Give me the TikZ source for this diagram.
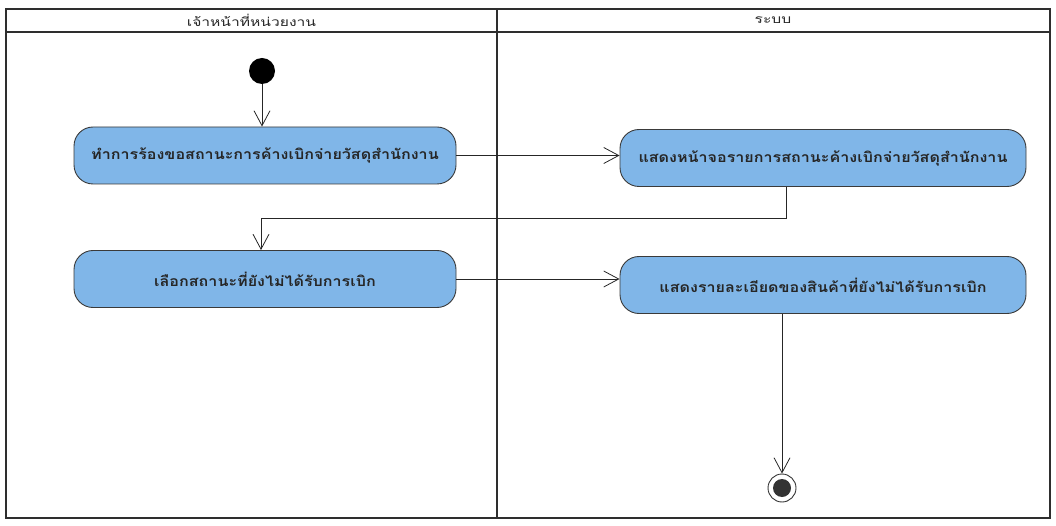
\documentclass[tikz,border=0pt]{standalone}
\usepackage{fontspec}
\newfontfamily\thaiwide[Script=Thai,FakeStretch=1.15,BoldFont={Loma Bold}]{Loma}
\newfontfamily\thaihead[Script=Thai,FakeStretch=1.3]{Loma}
\usetikzlibrary{arrows.meta,positioning}
\definecolor{actfill}{HTML}{80B6E8}
\definecolor{actline}{HTML}{3A3A3A}
\definecolor{frameline}{HTML}{2E2E2E}
\tikzset{
  activity/.style={draw=actline, line width=0.9pt, fill=actfill, rounded corners=19pt,
    minimum width=#1, minimum height=57pt, inner sep=0pt,
    font=\thaiwide\bfseries\fontsize{14}{16}\selectfont, text=black!85},
  flow/.style={draw=black!85, line width=0.8pt, -{Straight Barb[length=15pt,width=16pt,line width=0.8pt]}},
  lanehead/.style={font=\thaihead\fontsize{12}{14}\selectfont, text=black!85},
  startnode/.style={circle, fill=black, minimum size=26pt, inner sep=0pt},
}
\begin{document}
\begin{tikzpicture}[x=1pt,y=-1pt]
\useasboundingbox (0,0) rectangle (1056,526);
% swimlane frame
\draw[frameline, line width=1.8pt] (6,9) rectangle (1050,518);
\draw[frameline, line width=1.8pt] (6,32) -- (1050,32);
\draw[frameline, line width=1.4pt] (497,9) -- (497,518);
\node[lanehead] (laneA) at (251.5,20) {เจ้าหน้าที่หน่วยงาน};
\node[lanehead] (laneB) at (773,20) {ระบบ};
% nodes
\node[startnode] (start) at (262,71) {};
\node[activity=382pt] (req) at (265,155.5) {ทำการร้องขอสถานะการค้างเบิกจ่ายวัสดุสำนักงาน};
\node[activity=406pt] (show) at (823,158) {แสดงหน้าจอรายการสถานะค้างเบิกจ่ายวัสดุสำนักงาน};
\node[activity=382pt] (pick) at (265,279) {เลือกสถานะที่ยังไม่ได้รับการเบิก};
\node[activity=406pt] (detail) at (823,285) {แสดงรายละเอียดของสินค้าที่ยังไม่ได้รับการเบิก};
\node[circle, draw=black!80, line width=0.9pt, minimum size=28pt, inner sep=0pt] (stop) at (782,488) {};
\fill[black!80] (stop.center) circle (9pt);
% flows
\coordinate (bendA) at (786,218);
\coordinate (bendB) at (261,218);
\draw[flow] (start) -- (start |- req.north);
\draw[flow] (req.east) -- (req.east -| show.west);
\draw[flow] (show.south -| bendA) -- (bendA) -- (bendB) -- (bendB |- pick.north);
\draw[flow] (pick.east) -- (pick.east -| detail.west);
\draw[flow] (detail.south -| stop) -- (stop.north);
\end{tikzpicture}
\end{document}
